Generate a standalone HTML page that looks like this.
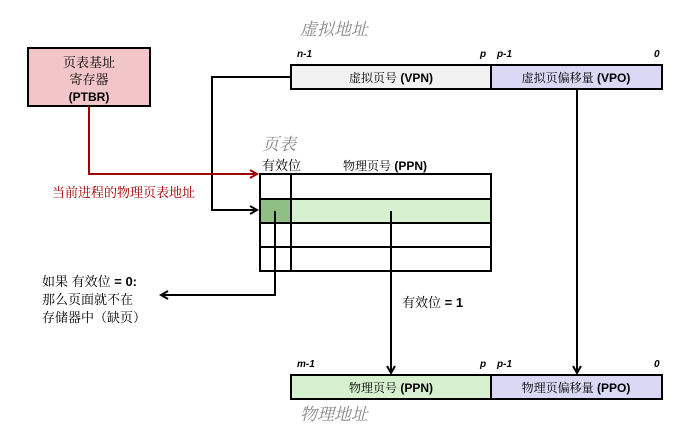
<!DOCTYPE html>
<html><head><meta charset="utf-8"><style>
body{margin:0;background:#fff;}
text{font-family:"Liberation Sans","Noto Serif CJK SC",serif;}
</style></head><body>
<svg width="688" height="428" xmlns="http://www.w3.org/2000/svg">
<defs>
<marker id="ab" markerWidth="10" markerHeight="10" refX="8" refY="5" orient="auto" markerUnits="userSpaceOnUse"><path d="M1,1 L8,5 L1,9" fill="none" stroke="#000" stroke-width="2"/></marker>
<marker id="ar" markerWidth="10" markerHeight="10" refX="8" refY="5" orient="auto" markerUnits="userSpaceOnUse"><path d="M1,1 L8,5 L1,9" fill="none" stroke="#a00000" stroke-width="2"/></marker>
</defs>
<g font-style="italic" fill="#888" font-size="17">
<text x="300" y="35">虚拟地址</text>
<text x="262" y="150">页表</text>
<text x="300" y="420">物理地址</text>
</g>
<rect x="28" y="48" width="122" height="58" fill="#f2c6c8" stroke="#000" stroke-width="2"/>
<text x="89" y="67" font-size="13" text-anchor="middle">页表基址</text>
<text x="89" y="84" font-size="13" text-anchor="middle">寄存器</text>
<text x="89" y="101" font-size="12" font-weight="bold" text-anchor="middle">(PTBR)</text>
<g font-size="10" font-style="italic" font-weight="bold">
<text x="297" y="57">n-1</text><text x="480" y="57">p</text><text x="497" y="57">p-1</text><text x="654" y="57">0</text>
<text x="297" y="367">m-1</text><text x="480" y="367">p</text><text x="497" y="367">p-1</text><text x="654" y="367">0</text>
</g>
<rect x="291" y="65" width="200" height="24" fill="#f2f2f2" stroke="#000" stroke-width="2"/>
<rect x="491" y="65" width="171" height="24" fill="#d9d9f5" stroke="#000" stroke-width="2"/>
<text x="391" y="82" font-size="12" text-anchor="middle">虚拟页号<tspan font-weight="bold"> (VPN)</tspan></text>
<text x="576" y="82" font-size="12" text-anchor="middle">虚拟页偏移量<tspan font-weight="bold"> (VPO)</tspan></text>
<rect x="291" y="375" width="200" height="24" fill="#d6f0d0" stroke="#000" stroke-width="2"/>
<rect x="491" y="375" width="171" height="24" fill="#d9d9f5" stroke="#000" stroke-width="2"/>
<text x="391" y="392" font-size="12" text-anchor="middle">物理页号<tspan font-weight="bold"> (PPN)</tspan></text>
<text x="576" y="392" font-size="12" text-anchor="middle">物理页偏移量<tspan font-weight="bold"> (PPO)</tspan></text>
<text x="262" y="170" font-size="13">有效位</text>
<text x="343" y="170" font-size="12">物理页号<tspan font-weight="bold"> (PPN)</tspan></text>
<rect x="260" y="199" width="231" height="24" fill="#d6f0d0"/>
<rect x="260" y="199" width="31" height="24" fill="#8fbf85"/>
<g stroke="#000" stroke-width="2" fill="none">
<rect x="260" y="174" width="231" height="97"/>
<line x1="260" y1="199" x2="491" y2="199"/>
<line x1="260" y1="223" x2="491" y2="223"/>
<line x1="260" y1="247" x2="491" y2="247"/>
<line x1="291" y1="174" x2="291" y2="271"/>
<polyline points="290,77 212,77 212,210 257,210" marker-end="url(#ab)"/>
<polyline points="275,211 275,295 161,295" marker-end="url(#ab)"/>
<polyline points="391,211 391,373" marker-end="url(#ab)"/>
<polyline points="577,89 577,373" marker-end="url(#ab)"/>
</g>
<polyline points="89,106 89,174 257,174" fill="none" stroke="#a00000" stroke-width="2" marker-end="url(#ar)"/>
<text x="52" y="197" font-size="13" fill="#a00000">当前进程的物理页表地址</text>
<g font-size="13">
<text x="42" y="286">如果 有效位<tspan font-weight="bold"> = 0:</tspan></text>
<text x="42" y="304">那么页面就不在</text>
<text x="42" y="322">存储器中（缺页）</text>
<text x="402" y="307">有效位<tspan font-weight="bold"> = 1</tspan></text>
</g>
</svg>
</body></html>
